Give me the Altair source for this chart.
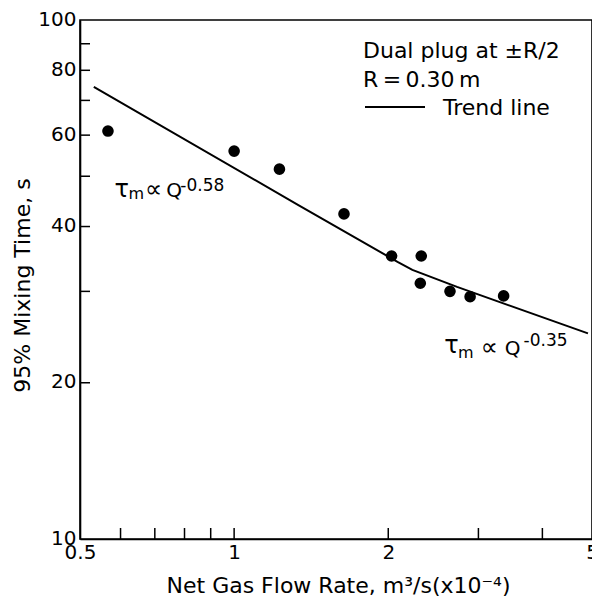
import altair as alt
import pandas as pd

# Measured data points (log-log)
flow = [0.567, 1.00, 1.226, 1.639, 2.03, 2.32, 2.31, 2.64, 2.89, 3.36]
mix_time = [61.1, 55.9, 51.6, 42.3, 35.1, 35.1, 31.1, 30.0, 29.3, 29.4]

# Trend line vertices
trend_x = [0.532, 1.335, 2.085, 2.229, 2.725, 4.91]
trend_y = [74.3, 44.0, 34.2, 33.0, 30.6, 24.9]

# Axis ticks
x_labels = [0.5, 1, 2, 5]
x_ticks = [0.6, 0.7, 0.8, 0.9, 1, 2, 3, 4]
y_labels = [10, 20, 40, 60, 80, 100]
y_ticks = [20, 30, 40, 50, 60, 70, 80, 90]

# Annotation pieces (data coordinates)
ann_text = ["τ", "m", "∝", "Q", "-0.58", "τ", "m", "∝", "Q", "-0.35"]
ann_x = [0.584, 0.622, 0.670, 0.737, 0.785, 2.572, 2.737, 3.033, 3.376, 3.675]
ann_y = [45.6, 45.2, 45.6, 45.6, 46.8, 22.8, 22.3, 22.6, 22.6, 23.5]
ann_size = [24, 16, 24, 20, 17, 24, 16, 24, 20, 17]

legend_lines = ["Dual plug at ±R/2", "R\u2009=\u20090.30\u2009m", "Trend line"]

W, H = 512, 519
FONT = "DejaVu Sans"

pts = pd.DataFrame({"q": flow, "t": mix_time})
trend = pd.DataFrame({"q": trend_x, "t": trend_y})
xt = pd.DataFrame({"q": x_ticks})
yt = pd.DataFrame({"t": y_ticks})
ann = pd.DataFrame({"q": ann_x, "t": ann_y, "txt": ann_text, "s": ann_size})

xscale = alt.Scale(type="log", domain=[0.5, 5], nice=False)
yscale = alt.Scale(type="log", domain=[10, 100], nice=False)

xaxis = alt.Axis(
    values=x_labels, tickSize=0, labelPadding=3, grid=False,
    labelFontSize=20, labelFont=FONT, labelColor="black",
    domainColor="black", domainWidth=1.6, labelFlush=False,
    title="Net Gas Flow Rate, m³/s(x10⁻⁴)", titleFont=FONT, titleFontSize=22,
    titleFontWeight="normal", titleColor="black",
    titleX=258, titleY=53, titleBaseline="alphabetic", titleAlign="center",
    labelExpr="datum.value == 0.5 ? '0.5' : format(datum.value, 'd')",
)
yaxis = alt.Axis(
    values=y_labels, tickSize=0, labelPadding=4, labelOffset=-1, grid=False,
    labelFontSize=20, labelFont=FONT, labelColor="black",
    domainColor="black", domainWidth=1.6, labelFlush=False,
    title="95% Mixing Time, s", titleFont=FONT, titleFontSize=22,
    titleFontWeight="normal", titleColor="black",
    titleX=-51, titleY=265, titleBaseline="alphabetic", titleAlign="center",
    titleAngle=-90,
)

base_x = alt.X("q:Q", scale=xscale, axis=xaxis)
base_y = alt.Y("t:Q", scale=yscale, axis=yaxis)

points = alt.Chart(pts).mark_circle(size=135, color="black", opacity=1).encode(
    x=base_x, y=base_y
)
line = alt.Chart(trend).mark_line(color="black", strokeWidth=2).encode(
    x=alt.X("q:Q", scale=xscale), y=alt.Y("t:Q", scale=yscale)
)
xtick_marks = alt.Chart(xt).mark_rule(color="black", strokeWidth=1.5).encode(
    x=alt.X("q:Q", scale=xscale), y=alt.value(H), y2=alt.value(H - 11)
)
ytick_marks = alt.Chart(yt).mark_rule(color="black", strokeWidth=1.5).encode(
    y=alt.Y("t:Q", scale=yscale), x=alt.value(0), x2=alt.value(10)
)
ann_marks = alt.Chart(ann).mark_text(
    align="left", baseline="alphabetic", font=FONT, color="black"
).encode(
    x=alt.X("q:Q", scale=xscale), y=alt.Y("t:Q", scale=yscale),
    text="txt:N", size=alt.Size("s:Q", scale=None, legend=None)
)

leg = pd.DataFrame({
    "txt": legend_lines,
    "px": [283, 283, 363],
    "py": [38, 67, 95],
})
legend_text = alt.Chart(leg).mark_text(
    align="left", baseline="alphabetic", font=FONT, fontSize=22, color="black"
).encode(x=alt.X("px:Q", scale=None), y=alt.Y("py:Q", scale=None), text="txt:N")
legend_rule = alt.Chart(pd.DataFrame({"a": [1]})).mark_rule(
    color="black", strokeWidth=2
).encode(x=alt.value(285), x2=alt.value(345), y=alt.value(87))

chart = alt.layer(
    points, line, xtick_marks, ytick_marks, ann_marks, legend_text, legend_rule
).properties(
    width=W, height=H,
    autosize=alt.AutoSizeParams(type="none"),
    padding={"left": 72, "top": 12, "right": 0, "bottom": 64},
    background="white",
).configure_view(stroke="black", strokeWidth=1.6)

chart.save("out.html", embed_options={"renderer": "svg", "actions": False})
